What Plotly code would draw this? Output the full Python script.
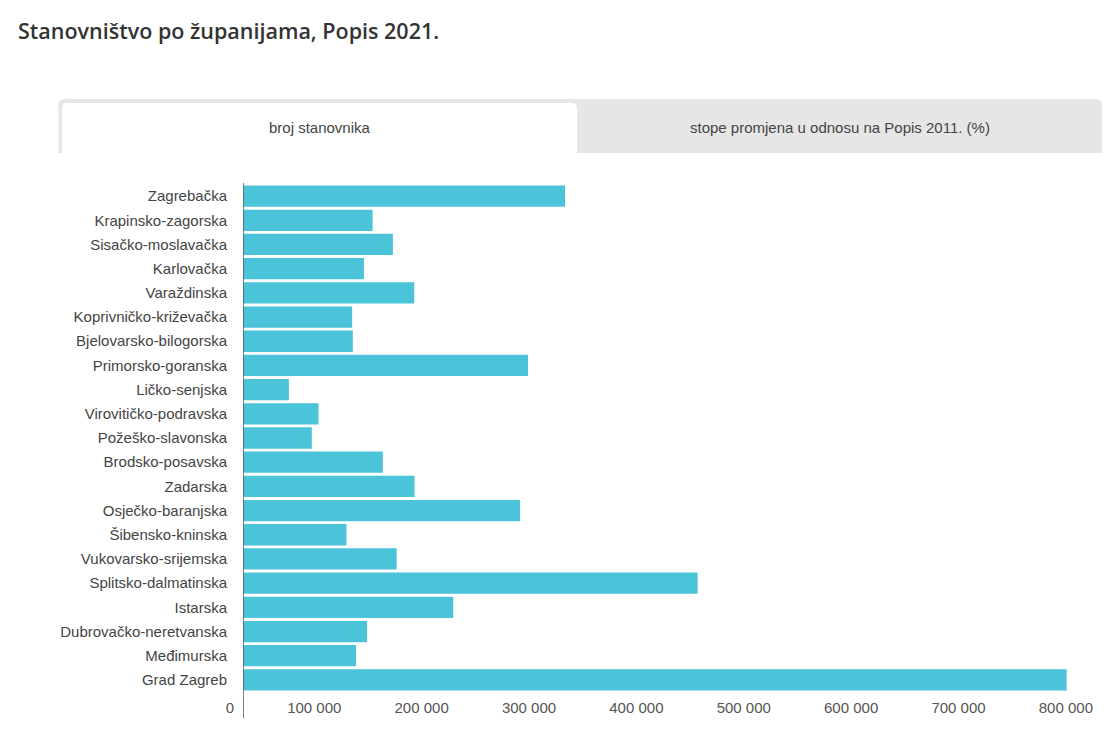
import plotly.graph_objects as go

# ---- data ----
zupanije = [
    "Zagrebačka", "Krapinsko-zagorska", "Sisačko-moslavačka", "Karlovačka",
    "Varaždinska", "Koprivničko-križevačka", "Bjelovarsko-bilogorska",
    "Primorsko-goranska", "Ličko-senjska", "Virovitičko-podravska",
    "Požeško-slavonska", "Brodsko-posavska", "Zadarska", "Osječko-baranjska",
    "Šibensko-kninska", "Vukovarsko-srijemska", "Splitsko-dalmatinska",
    "Istarska", "Dubrovačko-neretvanska", "Međimurska", "Grad Zagreb",
]
broj_stanovnika = [
    299985, 120702, 139603, 112596, 159487, 101661, 102295, 265419, 42748,
    70368, 64084, 130267, 159766, 258026, 96381, 143113, 423407, 195794,
    115564, 105250, 767131,
]
x_tick_vals = [0, 100000, 200000, 300000, 400000, 500000, 600000, 700000, 800000]
naslov = "Stanovništvo po županijama, Popis 2021."
tab_aktivni = "broj stanovnika"
tab_drugi = "stope promjena u odnosu na Popis 2011. (%)"

# ---- layout geometry (pixels) ----
W, H = 1120, 732
L, R, T, B = 243, 18, 184, 40
PW = W - L - R
PH = H - T - B

FONT = "Arial, Liberation Sans, sans-serif"


def fx(x):
    return (x - L) / PW


def fy(y):
    return (H - B - y) / PH


def rounded_top(x0, y0, x1, y1, r):
    pts = (
        f"M {fx(x0)},{fy(y1)} "
        f"L {fx(x0)},{fy(y0 + r)} "
        f"Q {fx(x0)},{fy(y0)} {fx(x0 + r)},{fy(y0)} "
        f"L {fx(x1 - r)},{fy(y0)} "
        f"Q {fx(x1)},{fy(y0)} {fx(x1)},{fy(y0 + r)} "
        f"L {fx(x1)},{fy(y1)} Z"
    )
    return pts


fig = go.Figure(
    go.Bar(
        x=broj_stanovnika,
        y=zupanije,
        orientation="h",
        marker=dict(color="#4bc3d8", line=dict(width=0)),
        hoverinfo="x+y",
    )
)

shapes = [
    # tab container (grey)
    dict(type="path", xref="paper", yref="paper",
         path=rounded_top(58.5, 99, 1102, 153, 6),
         fillcolor="#e6e6e6", line=dict(width=0)),
    # active tab (white)
    dict(type="path", xref="paper", yref="paper",
         path=rounded_top(62, 103, 577, 153.5, 5),
         fillcolor="#ffffff", line=dict(width=0)),
    # y axis line (extends below plot)
    dict(type="line", xref="x", yref="paper", x0=0, x1=0,
         y0=fy(718), y1=fy(183),
         line=dict(color="#555555", width=1.5)),
]

annotations = [
    dict(text=tab_aktivni, xref="paper", yref="paper",
         x=fx(319.8), y=fy(128), showarrow=False,
         xanchor="center", yanchor="middle",
         font=dict(family=FONT, size=15, color="#444444")),
    dict(text=tab_drugi, xref="paper", yref="paper",
         x=fx(839.5), y=fy(128), showarrow=False,
         xanchor="center", yanchor="middle",
         font=dict(family=FONT, size=15, color="#444444")),
]

fig.update_layout(
    width=W, height=H,
    margin=dict(l=L, r=R, t=T, b=B, pad=0),
    paper_bgcolor="white", plot_bgcolor="white",
    separators=", ",
    bargap=0.12,
    showlegend=False,
    title=dict(
        text=naslov, xref="container", yref="container",
        x=18 / W, y=1 - 31 / H, xanchor="left", yanchor="middle",
        font=dict(family="Open Sans", size=21.5, weight=600, color="#333333"),
    ),
    shapes=shapes,
    annotations=annotations,
    xaxis=dict(
        range=[0, 800000], tickvals=x_tick_vals, tickformat=",d",
        showgrid=False, zeroline=False, showline=False, ticks="",
        ticklabelposition="outside left", ticklabelshift=-9,
        ticklabelstandoff=5,
        tickfont=dict(family=FONT, size=15, color="#555555"),
        fixedrange=True,
    ),
    yaxis=dict(
        autorange="reversed", showgrid=False, zeroline=False, showline=False,
        ticks="", ticklabelstandoff=15,
        tickfont=dict(family=FONT, size=15, color="#444444"),
        fixedrange=True,
    ),
)

fig.write_html("out.html", config=dict(displayModeBar=False),
               post_script="document.body.style.margin='0';")
